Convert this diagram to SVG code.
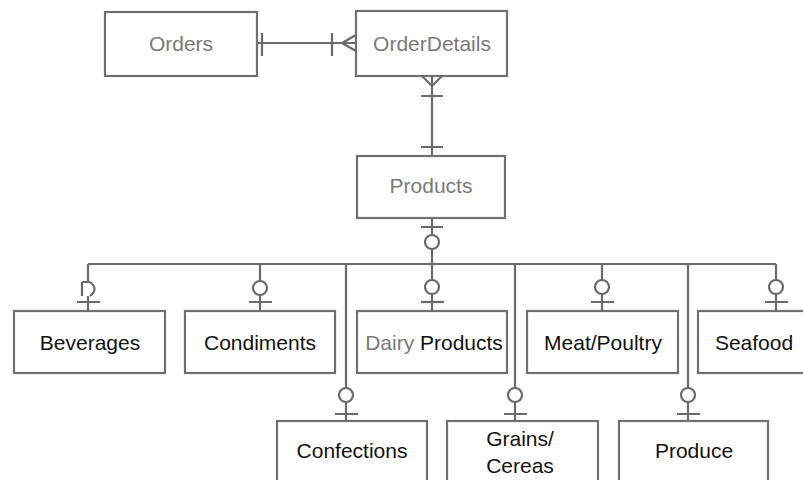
<svg xmlns="http://www.w3.org/2000/svg" width="803" height="480" viewBox="0 0 803 480">
<style>
.box{fill:#fff;stroke:#707070;stroke-width:2.2}
.ln{fill:none;stroke:#6a6a6a;stroke-width:2.2}
.t{font-family:"Liberation Sans",Arial,sans-serif;font-size:21px;text-anchor:middle;fill:#111}
.g{fill:#7a7a7a}
</style>
<rect width="803" height="480" fill="#fff"/>
<g id="connectors">
<!-- Orders - OrderDetails -->
<path class="ln" d="M257 43H356 M262 33V56 M332 33V56 M342 43L356 35 M342 43L356 51"/>
<!-- OrderDetails - Products -->
<path class="ln" d="M432 76V156 M422 76L432 86L442 76 M421 96H443 M421 147H443"/>
<!-- Products to bus -->
<path class="ln" d="M432 218V235 M432 249V280 M432 294V311 M421 227H443"/>
<circle class="ln" cx="432" cy="242" r="7"/>
<!-- bus -->
<path class="ln" d="M88 264H776"/>
<!-- Beverages -->
<path class="ln" d="M88 264V281 M82 282V296 M82 282H90 M90 282Q99 289 90 296 M88 296V311 M77 302H100"/>
<!-- Condiments -->
<path class="ln" d="M260 264V281 M260 295V311 M249 302H272"/>
<circle class="ln" cx="260" cy="288" r="7"/>
<!-- Dairy -->
<circle class="ln" cx="432" cy="287" r="7"/>
<path class="ln" d="M421 302H444"/>
<!-- Meat -->
<path class="ln" d="M602 264V280 M602 294V311 M591 302H614"/>
<circle class="ln" cx="602" cy="287" r="7"/>
<!-- Seafood -->
<path class="ln" d="M776 264V280 M776 294V311 M765 302H788"/>
<circle class="ln" cx="776" cy="287" r="7"/>
<!-- Confections -->
<path class="ln" d="M346 264V388 M346 402V421 M335 414H358"/>
<circle class="ln" cx="346" cy="395" r="7"/>
<!-- Grains -->
<path class="ln" d="M515 264V388 M515 402V421 M504 414H527"/>
<circle class="ln" cx="515" cy="395" r="7"/>
<!-- Produce -->
<path class="ln" d="M688 264V388 M688 402V421 M677 414H700"/>
<circle class="ln" cx="688" cy="395" r="7"/>
</g>
<g id="orders"><rect class="box" x="105" y="12" width="152" height="64"/><text class="t g" x="181" y="51">Orders</text></g>
<g id="orderdetails"><rect class="box" x="356" y="11" width="151" height="65"/><text class="t g" x="432" y="51">OrderDetails</text></g>
<g id="products"><rect class="box" x="357" y="156" width="148" height="62"/><text class="t g" x="431" y="193">Products</text></g>
<g id="beverages"><rect class="box" x="14" y="311" width="151" height="62"/><text class="t" x="90" y="350">Beverages</text></g>
<g id="condiments"><rect class="box" x="185" y="311" width="150" height="62"/><text class="t" x="260" y="350">Condiments</text></g>
<g id="dairyproducts"><rect class="box" x="357" y="311" width="150" height="62"/><text class="t" x="434" y="350"><tspan class="g">Dairy</tspan> Products</text></g>
<g id="meatpoultry"><rect class="box" x="527" y="311" width="151" height="62"/><text class="t" x="603" y="350">Meat/Poultry</text></g>
<g id="seafood"><rect class="box" x="698" y="311" width="110" height="62"/><text class="t" x="754" y="350">Seafood</text></g>
<g id="confections"><rect class="box" x="277" y="421" width="150" height="66"/><text class="t" x="352" y="458">Confections</text></g>
<g id="grainscereals"><rect class="box" x="447" y="421" width="151" height="66"/><text class="t" x="520" y="446">Grains/</text><text class="t" x="520" y="473">Cereas</text></g>
<g id="produce"><rect class="box" x="619" y="421" width="149" height="66"/><text class="t" x="694" y="458">Produce</text></g>
</svg>
